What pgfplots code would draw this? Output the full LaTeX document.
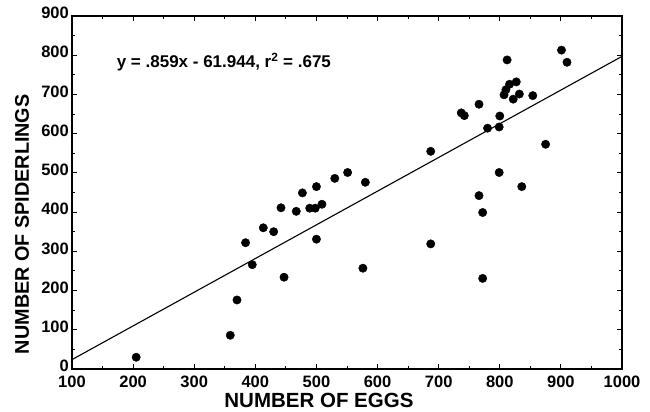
\documentclass[border=0pt]{standalone}
\usepackage{fontspec}
\setmainfont{Liberation Sans}
\usepackage{pgfplots}
\pgfplotsset{compat=1.18}

\begin{document}
\begin{tikzpicture}
\begin{axis}[
    name=ax,
    scale only axis,
    width=550pt, height=353pt,
    xmin=100, xmax=1000,
    ymin=0, ymax=900,
    xtick={100,200,...,1000},
    ytick={0,100,...,900},
    minor tick num=1,
    tick align=inside,
    major tick length=5pt,
    minor tick length=3pt,
    axis line style={line width=1.3pt},
    every tick/.style={black, line width=0.9pt},
    /pgf/number format/assume math mode=true,
    /pgf/number format/1000 sep={},
    tick label style={font=\fontsize{16.5}{18}\selectfont\bfseries, text height=11.5pt, text depth=0pt},
    xticklabel style={inner sep=0pt, yshift=-7pt},
    yticklabel style={inner sep=0pt, xshift=-3pt, yshift=3pt},
    xlabel={NUMBER OF EGGS},
    ylabel={NUMBER OF SPIDERLINGS},
    label style={font=\fontsize{20.5}{22}\selectfont\bfseries},
    xlabel style={at={(axis description cs:0.449,0)}, anchor=north, yshift=-23.5pt,
        inner sep=0pt, text height=14.5pt, text depth=0pt},
    ylabel style={at={(axis description cs:-0.091,0.41)}, anchor=center, inner sep=0pt,
        font=\fontsize{19.8}{21}\selectfont\bfseries},
    clip=false,
]
\addplot[only marks, mark=*, mark size=4.2pt, black] coordinates {
    (205,30) (359,86) (370,176) (384,322) (395,266) (413,360) (430,350)
    (442,411) (447,234) (467,402) (477,449) (489,410) (498,410) (500,465)
    (500,331) (509,420) (530,486) (551,501) (576,257) (580,476) (687,555)
    (687,319) (737,653) (742,646) (766,675) (766,442) (772,399) (772,231)
    (780,614) (799,501) (799,617) (800,645) (807,699) (810,712) (816,726)
    (812,788) (822,688) (827,732) (832,701) (836,465) (854,697) (875,573)
    (901,813) (910,782)
};
\addplot[black, line width=1.1pt] coordinates {(100,23.956) (1000,797.056)};
\node[anchor=west, inner sep=0pt, font=\fontsize{17}{18}\selectfont\bfseries]
    at (axis cs:173,783) {y = .859x - 61.944, r\textsuperscript{2} = .675};
\end{axis}
\pgfresetboundingbox
\path ([xshift=-72pt,yshift=-43pt]ax.south west) rectangle ([xshift=28pt,yshift=16pt]ax.north east);
\end{tikzpicture}
\end{document}
